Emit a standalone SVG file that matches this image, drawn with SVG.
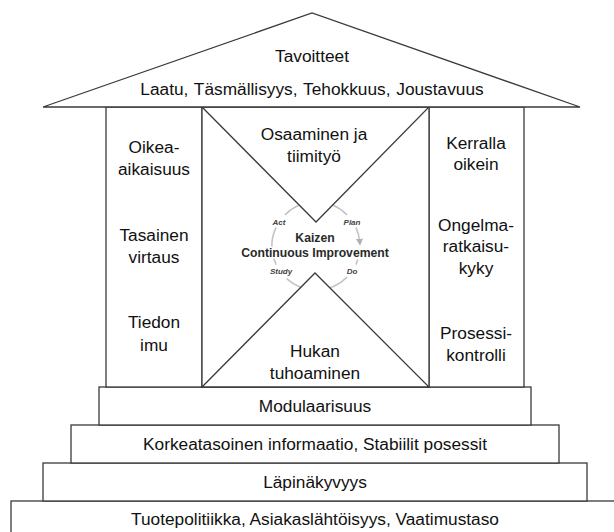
<svg xmlns="http://www.w3.org/2000/svg" width="614" height="532" viewBox="0 0 614 532">
<defs>
<style>
.box{fill:#fff;stroke:#3a3a3a;stroke-width:1.3}
.t{font-family:"Liberation Sans",Arial,sans-serif;font-size:17.3px;fill:#111;text-anchor:middle}
.k{font-family:"Liberation Sans",Arial,sans-serif;font-weight:bold;font-size:12.2px;fill:#2a2a2a;text-anchor:middle;stroke:#fff;stroke-width:3;paint-order:stroke;stroke-linejoin:round}
.s{font-family:"Liberation Sans",Arial,sans-serif;font-weight:bold;font-style:italic;font-size:8px;fill:#444;text-anchor:middle}
.arc{fill:none;stroke:#c4c4c4;stroke-width:1.6}
</style>
<marker id="ah" viewBox="0 0 10 10" refX="5" refY="5" markerWidth="7" markerHeight="7" orient="auto" markerUnits="userSpaceOnUse">
<path d="M0,0 L10,5 L0,10 z" fill="#b0b0b0"/>
</marker>
</defs>
<rect width="614" height="532" fill="#fff"/>

<g id="base-tuotepolitiikka">
<rect class="box" x="11" y="501" width="610" height="40"/>
<text class="t" x="315" y="525">Tuotepolitiikka, Asiakaslähtöisyys, Vaatimustaso</text>
</g>
<g id="step-lapinakyvyys">
<rect class="box" x="43" y="463" width="544" height="38"/>
<text class="t" x="315" y="488">Läpinäkyvyys</text>
</g>
<g id="step-korkeatasoinen">
<rect class="box" x="71" y="425" width="488" height="38"/>
<text class="t" x="315" y="450">Korkeatasoinen informaatio, Stabiilit posessit</text>
</g>
<g id="step-modulaarisuus">
<rect class="box" x="99" y="387" width="432" height="38"/>
<text class="t" x="315" y="412">Modulaarisuus</text>
</g>

<g id="pillar-left">
<rect class="box" x="106" y="107" width="96" height="280"/>
<text class="t" x="154" y="153">Oikea-</text>
<text class="t" x="154" y="175">aikaisuus</text>
<text class="t" x="154" y="241">Tasainen</text>
<text class="t" x="154" y="263">virtaus</text>
<text class="t" x="154" y="328">Tiedon</text>
<text class="t" x="154" y="351">imu</text>
</g>
<g id="pillar-right">
<rect class="box" x="429" y="107" width="95" height="280"/>
<text class="t" x="476" y="149">Kerralla</text>
<text class="t" x="476" y="170">oikein</text>
<text class="t" x="476" y="231">Ongelma-</text>
<text class="t" x="476" y="252">ratkaisu-</text>
<text class="t" x="476" y="274">kyky</text>
<text class="t" x="476" y="339">Prosessi-</text>
<text class="t" x="476" y="361">kontrolli</text>
</g>

<g id="center">
<rect class="box" x="202" y="107" width="227" height="280"/>
<g id="kaizen-cycle">
<path class="arc" d="M284.9,214.9 A44,44 0 0 1 347.1,214.9"/>
<path class="arc" d="M355.9,227.4 A44,44 0 0 1 359.8,242.2" marker-end="url(#ah)"/>
<path class="arc" d="M357.8,259.6 A44,44 0 0 1 355.9,264.6"/>
<path class="arc" d="M347.1,277.1 A44,44 0 0 1 286.6,278.7"/>
<path class="arc" d="M276.1,264.6 A44,44 0 0 1 276.1,227.4"/>
</g>
<text class="s" x="279" y="225">Act</text>
<text class="s" x="352" y="225">Plan</text>
<text class="s" x="281" y="274">Study</text>
<text class="s" x="352" y="274">Do</text>
<polygon class="box" points="202,107 316,222 429,107"/>
<polygon class="box" points="202,387 315,273 429,387"/>
<text class="k" x="315" y="242">Kaizen</text>
<text class="k" x="315" y="257">Continuous Improvement</text>
<text class="t" x="314" y="140">Osaaminen ja</text>
<text class="t" x="314" y="162">tiimityö</text>
<text class="t" x="315" y="357">Hukan</text>
<text class="t" x="315" y="379">tuhoaminen</text>
</g>

<g id="roof">
<polygon class="box" points="43,107 312,13 580,107"/>
<text class="t" x="312" y="62">Tavoitteet</text>
<text class="t" x="312" y="95" word-spacing="1">Laatu, Täsmällisyys, Tehokkuus, Joustavuus</text>
</g>
<g id="connectors"/>
</svg>
